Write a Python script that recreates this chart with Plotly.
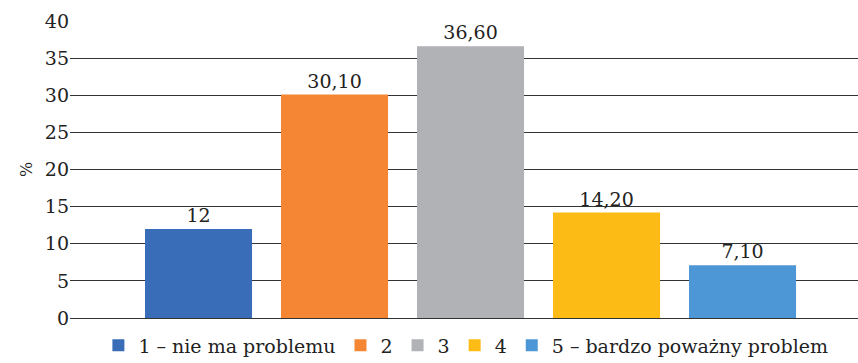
import plotly.graph_objects as go

categories = ["1 – nie ma problemu", "2", "3", "4", "5 – bardzo poważny problem"]
values = [12, 30.10, 36.60, 14.20, 7.10]
value_labels = ["12", "30,10", "36,60", "14,20", "7,10"]
colors = ["#3A6DB7", "#F58634", "#B1B2B6", "#FDBB16", "#4E97D6"]
y_ticks = [0, 5, 10, 15, 20, 25, 30, 35, 40]

FONT = "DejaVu Serif, Liberation Serif, serif"

fig = go.Figure()
for i, (cat, v, lab, c) in enumerate(zip(categories, values, value_labels, colors)):
    fig.add_trace(go.Bar(
        x=[i], y=[v], name=cat, marker=dict(color=c, line=dict(width=0)),
        width=0.787, text=[lab], textposition="outside",
        textfont=dict(family=FONT, size=19, color="#222"),
        cliponaxis=False, hoverinfo="skip",
    ))

fig.update_layout(
    width=858, height=363,
    margin=dict(l=70, r=0, t=21, b=45, autoexpand=False),
    paper_bgcolor="white", plot_bgcolor="white",
    barmode="overlay",
    font=dict(family=FONT, size=19, color="#222"),
    showlegend=True,
    legend=dict(orientation="h", xref="container", x=0.543, xanchor="center",
                yref="paper", y=-0.028, yanchor="top",
                font=dict(family=FONT, size=19, color="#222"),
                itemwidth=30, tracegroupgap=0),
    xaxis=dict(range=[-0.945, 4.849], showticklabels=False, showgrid=False,
               zeroline=False, showline=False, ticks=""),
    yaxis=dict(range=[0, 40], tickvals=y_ticks, ticktext=[str(t) for t in y_ticks],
               showgrid=True, gridcolor="#333", gridwidth=1,
               zeroline=True, zerolinecolor="#333", zerolinewidth=1,
               showline=False, ticks="", ticklen=0, automargin=False,
               title=dict(text="%", standoff=8, font=dict(family=FONT, size=16)),
               tickfont=dict(family=FONT, size=19, color="#222")),
)

fig.write_html("out.html")
